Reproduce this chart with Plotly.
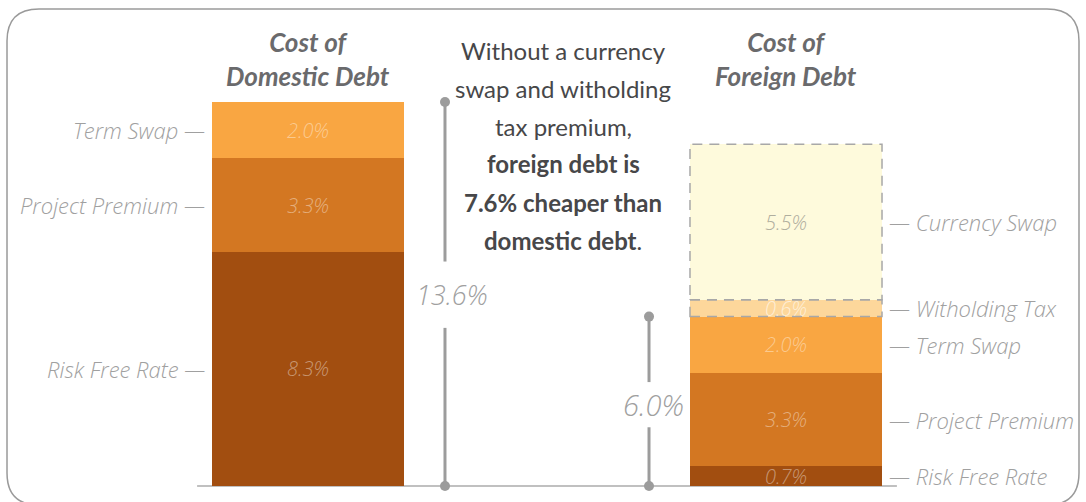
import plotly.graph_objects as go

# ---------------- data ----------------
bar_titles = ["Cost of<br>Domestic Debt", "Cost of<br>Foreign Debt"]
components = ["Risk Free Rate", "Project Premium", "Term Swap", "Witholding Tax", "Currency Swap"]
domestic = [8.3, 3.3, 2.0, None, None]
foreign = [0.7, 3.3, 2.0, 0.6, 5.5]
headline = [
    "Without a currency",
    "swap and witholding",
    "tax premium,",
    "<b>foreign debt is</b>",
    "<b>7.6% cheaper than</b>",
    "<b>domestic debt</b>.",
]

# ---------------- style ----------------
W, H = 1086, 502
seg_colors = ["#A24E10", "#D37722", "#F9A642", "#FDD79B", "#FEFADC"]
seg_text_colors = ["rgba(255,255,255,0.42)", "rgba(255,255,255,0.42)", "rgba(255,255,255,0.42)",
                   "rgba(255,255,255,0.6)", "#B0AE9E"]
dashed = [False, False, False, True, True]
BAR_W = 0.4017
LABEL_GRAY = "#A0A0A0"
LINE_GRAY = "#9C9C9C"
LIGHT = dict(family="'Open Sans', Lato, sans-serif", style="italic", weight=300)

fig = go.Figure()
for i, name in enumerate(components):
    fig.add_trace(go.Bar(
        x=[0, 1], y=[domestic[i], foreign[i]], name=name, width=BAR_W,
        marker=dict(color=seg_colors[i], line=dict(width=0)),
        hoverinfo="skip", showlegend=False,
    ))

annotations = []
shapes = []

def py(px):  # pixel row -> paper y
    return 1 - px / H

def px_x(px):
    return px / W

# segment labels, side labels, dashed outlines
for b, vals in enumerate([domestic, foreign]):
    base = 0.0
    for i, v in enumerate(vals):
        if v is None:
            continue
        mid = base + v / 2
        annotations.append(dict(
            x=b, y=mid, xref="x", yref="y", text=f"{v:.1f}%", showarrow=False,
            font=dict(size=20, color=seg_text_colors[i], **LIGHT)))
        if b == 0:
            annotations.append(dict(
                x=b - BAR_W / 2, y=mid, xref="x", yref="y", text=f"{components[i]} —",
                xanchor="right", xshift=-5, showarrow=False,
                font=dict(size=22, color=LABEL_GRAY, **LIGHT)))
        else:
            annotations.append(dict(
                x=b + BAR_W / 2, y=mid, xref="x", yref="y", text=f"— {components[i]}",
                xanchor="left", xshift=5, showarrow=False,
                font=dict(size=22, color=LABEL_GRAY, **LIGHT)))
        if dashed[i]:
            shapes.append(dict(
                type="rect", xref="x", yref="y", x0=b - BAR_W / 2, x1=b + BAR_W / 2,
                y0=base, y1=base + v, line=dict(color="#A8A8A8", width=1.5, dash="10px,7px"),
                fillcolor="rgba(0,0,0,0)", layer="above"))
        base += v

# bar titles
for b, t in enumerate(bar_titles):
    annotations.append(dict(
        x=b, y=py(59), xref="x", yref="paper", text=t, showarrow=False, yanchor="middle",
        font=dict(family="Lato, sans-serif", size=26, color="#6A6A6C", style="italic", weight=700)))

# headline text
for k, line in enumerate(headline):
    annotations.append(dict(
        x=0.534, y=py(50 + k * 38), xref="x", yref="paper", text=line, showarrow=False,
        yanchor="middle", font=dict(family="Lato, sans-serif", size=24, color="#474749")))

# brackets
totals = [sum(v for v in domestic if v is not None), sum(foreign[:3])]
bracket_x = [0.2866, 0.7134]
gaps = [(1.2, 1.15), (0.8, 0.8)]
label_sizes = [27, 29]
label_shift = [7, 4]
for bx, tot, (g_lo, g_hi), ls, sh in zip(bracket_x, totals, gaps, label_sizes, label_shift):
    mid = tot / 2 - (0.12 if tot < 10 else 0.0)
    shapes.append(dict(type="line", xref="x", yref="y", x0=bx, x1=bx, y0=0, y1=mid - g_lo,
                       line=dict(color=LINE_GRAY, width=3)))
    shapes.append(dict(type="line", xref="x", yref="y", x0=bx, x1=bx, y0=mid + g_hi, y1=tot,
                       line=dict(color=LINE_GRAY, width=3)))
    annotations.append(dict(x=bx, y=mid, xref="x", yref="y", text=f"{tot:.1f}%", showarrow=False,
                            xshift=sh, font=dict(size=ls, color=LABEL_GRAY, **LIGHT)))
    fig.add_trace(go.Scatter(x=[bx, bx], y=[0, tot], mode="markers",
                             marker=dict(size=10, color=LINE_GRAY), hoverinfo="skip",
                             showlegend=False, cliponaxis=False))

# baseline
shapes.append(dict(type="line", xref="x", yref="y", x0=-0.232, x1=1.232, y0=0, y1=0,
                   line=dict(color="#ABABAB", width=1.5), layer="below"))

# rounded frame
L, T, R, B, r = 7, 9, 1079, 505, 32
def P(x, y):
    return f"{px_x(x):.5f},{py(y):.5f}"
path = (f"M {P(L + r, T)} L {P(R - r, T)} Q {P(R, T)} {P(R, T + r)} "
        f"L {P(R, B - r)} Q {P(R, B)} {P(R - r, B)} L {P(L + r, B)} "
        f"Q {P(L, B)} {P(L, B - r)} L {P(L, T + r)} Q {P(L, T)} {P(L + r, T)} Z")
shapes.append(dict(type="path", xref="paper", yref="paper", path=path,
                   line=dict(color="#9A9A9A", width=1.5), fillcolor="rgba(0,0,0,0)"))

px_per_unit = 384 / 13.6
fig.update_layout(
    width=W, height=H, margin=dict(l=0, r=0, t=0, b=0),
    paper_bgcolor="white", plot_bgcolor="white",
    barmode="stack", bargap=0,
    xaxis=dict(range=[-308 / 478, (W - 308) / 478], visible=False, fixedrange=True),
    yaxis=dict(range=[-(H - 486) / px_per_unit, 486 / px_per_unit], visible=False, fixedrange=True),
    annotations=annotations, shapes=shapes,
)

fig.write_html("out.html", config={"displayModeBar": False},
               post_script="document.body.style.margin='0';document.body.style.overflow='hidden';")
